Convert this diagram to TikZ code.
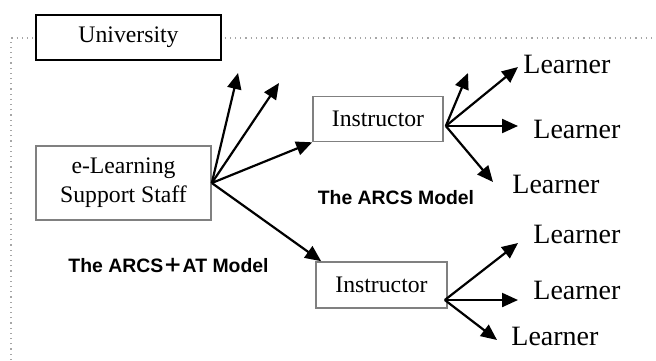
\documentclass[tikz,border=0pt]{standalone}
\usepackage{fontspec}
\setmainfont{Liberation Serif}
\newfontfamily\gothic{Liberation Sans}
\newfontfamily\jpfont{Noto Sans CJK JP}
\usepackage{tikz}
\usetikzlibrary{arrows.meta, positioning}

\begin{document}
\begin{tikzpicture}[x=0.5pt, y=-0.5pt]
    \tikzstyle{org} = [rectangle, draw=black, fill=white, line width=0.9pt, minimum width=92.5pt, minimum height=22.5pt, align=center, font=\fontsize{11.85}{14.4}\selectfont]
    \tikzstyle{staff} = [rectangle, draw=gray, fill=white, line width=0.8pt, minimum width=87.5pt, minimum height=37pt, align=center, font=\fontsize{11.85}{14.4}\selectfont]
    \tikzstyle{teacher} = [rectangle, draw=gray, fill=white, line width=0.8pt, minimum width=65pt, minimum height=22.5pt, align=center, font=\fontsize{11.85}{14.4}\selectfont]
    \tikzstyle{lrn} = [inner sep=0pt, anchor=west, font=\fontsize{14}{16}\selectfont]
    \tikzstyle{model} = [inner sep=0pt, font=\gothic\bfseries\fontsize{9.7}{11}\selectfont]
    \tikzstyle{link} = [-{Triangle[length=8pt, width=7pt]}, line width=1.1pt]

    \useasboundingbox (0,0) rectangle (656,360);

    % Dotted frame of the university
    \draw[gray!70, dotted, line width=0.6pt] (11,360) -- (11,38) -- (656,38);

    % Boxes
    \node (univ) [org] at (128.5,37.5) {University};
    \node (staff) [staff] at (123.5,183) {e-Learning\\Support Staff};
    \node (ins1) [teacher] at (378,119) {Instructor};
    \node (ins2) [teacher, minimum width=65.5pt, minimum height=23pt] at (381.5,285) {Instructor};

    % Learners
    \node (lrn1) [lrn] at (523,64) {Learner};
    \node (lrn2) [lrn] at (533,129) {Learner};
    \node (lrn3) [lrn] at (512,184) {Learner};
    \node (lrn4) [lrn] at (533,234) {Learner};
    \node (lrn5) [lrn] at (533,290) {Learner};
    \node (lrn6) [lrn] at (511,336) {Learner};

    % Model labels
    \node (arcs) [model] at (396,198) {The ARCS Model};
    \node (arcsat) [model] at (168.5,265) {The ARCS{\jpfont ＋}AT Model};

    % Free arrow ends and starting points
    \coordinate (free1) at (238,73);
    \coordinate (free2) at (279,83);
    \coordinate (free3) at (468,73);
    \coordinate (src1) at ([xshift=1pt, yshift=-3.5pt]ins1.east);
    \coordinate (src2) at ([xshift=-1.5pt, yshift=-7.5pt]ins2.east);

    % Connections
    \draw[link] (staff.east) -- (free1);
    \draw[link] (staff.east) -- (free2);
    \draw[link] (staff.east) -- (ins1.south west);
    \draw[link] (staff.east) -- ([xshift=3pt]ins2.north west);

    \draw[link] (src1) -- (free3);
    \draw[link] (src1) -- ([xshift=-2.5pt, yshift=-1.5pt]lrn1.west);
    \draw[link] (src1) -- ([xshift=-7.5pt, yshift=1.5pt]lrn2.west);
    \draw[link] (src1) -- ([xshift=-9.5pt, yshift=1pt]lrn3.west);

    \draw[link] (src2) -- ([xshift=-7.5pt, yshift=-4.5pt]lrn4.west);
    \draw[link] (src2) -- ([xshift=-7.5pt, yshift=-5pt]lrn5.west);
    \draw[link] (src2) -- ([xshift=-7pt, yshift=-2pt]lrn6.west);
\end{tikzpicture}
\end{document}
